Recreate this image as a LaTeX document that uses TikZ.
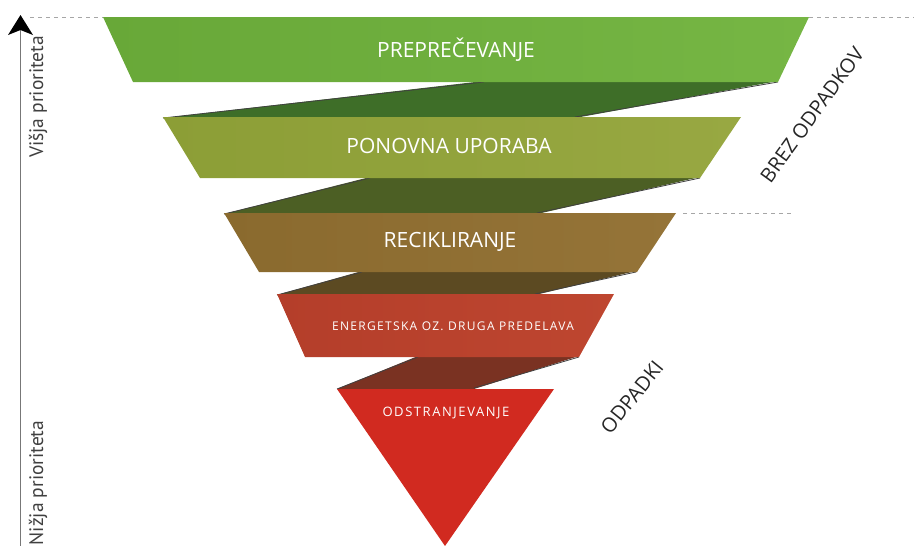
\documentclass[tikz,border=0pt]{standalone}
\usepackage{fontspec}
\setmainfont{Open Sans}
\newfontfamily\axisfont{PT Sans}
\usetikzlibrary{arrows.meta}
\definecolor{bandA}{HTML}{68A838}
\definecolor{bandAr}{HTML}{76B644}
\definecolor{shadA}{HTML}{3E6E28}
\definecolor{bandB}{HTML}{8C9E36}
\definecolor{bandBr}{HTML}{98A842}
\definecolor{shadB}{HTML}{4C5F24}
\definecolor{bandC}{HTML}{8A6A2E}
\definecolor{bandCr}{HTML}{957438}
\definecolor{shadC}{HTML}{5C4A22}
\definecolor{bandD}{HTML}{B43E2A}
\definecolor{bandDr}{HTML}{BE4630}
\definecolor{shadD}{HTML}{7A3222}
\definecolor{bandE}{HTML}{D12A20}
\definecolor{axisgray}{HTML}{777777}
\tikzset{
  foldedge/.style={draw=black!75, line width=0.8pt},
  bandlabel/.style={text=white, inner sep=0pt, font=\fontsize{21}{24}\selectfont},
  sidelabel/.style={text=black!85, inner sep=0pt, font=\fontsize{20}{22}\selectfont},
  axislabel/.style={text=black!75, inner sep=0pt, font=\axisfont\fontsize{19.5}{22}\selectfont},
  guideline/.style={draw=black!35, line width=0.8pt, dash pattern=on 4pt off 4pt},
}
\begin{document}
\begin{tikzpicture}[x=1pt,y=-1pt]
\useasboundingbox (0,0) rectangle (914,546);

% shadows / folds (behind bands)
\fill[shadA] (163,118) -- (484,81) -- (778,81) -- (575,118) -- cycle;
\draw[foldedge] (163,118) -- (484,82);
\draw[foldedge] (778,82) -- (575,117);
\fill[shadB] (224,214) -- (370,177) -- (700,177) -- (537,214) -- cycle;
\draw[foldedge] (224,214) -- (370,178);
\draw[foldedge] (700,178) -- (537,213);
\fill[shadC] (277,295) -- (362,271) -- (636,271) -- (535,295) -- cycle;
\draw[foldedge] (277,295) -- (362,272);
\draw[foldedge] (636,272) -- (535,294);
\fill[shadD] (337,389) -- (418,356) -- (579,356) -- (474,389) -- cycle;
\draw[foldedge] (337,389) -- (418,357);
\draw[foldedge] (579,357) -- (474,388);

% bands
\shade[left color=bandA, right color=bandAr] (103,17) -- (809,17) -- (778,82) -- (133,82) -- cycle;
\shade[left color=bandB, right color=bandBr] (163,117) -- (741,117) -- (700,178) -- (200,178) -- cycle;
\shade[left color=bandC, right color=bandCr] (224,213) -- (676,213) -- (637,272) -- (259,272) -- cycle;
\shade[left color=bandD, right color=bandDr] (277,294) -- (614,294) -- (579,357) -- (305,357) -- cycle;
\fill[bandE] (337,389) -- (554,389) -- (445,546) -- cycle;

% labels
\node[bandlabel] (prep) at (456,50) {PREPREČEVANJE};
\node[bandlabel] (reuse) at (449,146) {PONOVNA UPORABA};
\node[bandlabel] (recyc) at (450,242) {RECIKLIRANJE};
\node[text=white, inner sep=0pt, font=\fontsize{12}{14}\selectfont\addfontfeature{LetterSpace=11}] (energ) at (453,326) {ENERGETSKA OZ. DRUGA PREDELAVA};
\node[text=white, inner sep=0pt, font=\fontsize{13}{15}\selectfont\addfontfeature{LetterSpace=12}] (disp) at (446,413) {ODSTRANJEVANJE};

% side labels
\node[sidelabel, rotate=54] (brez) at (812,115) {BREZ ODPADKOV};
\node[sidelabel, rotate=51] (odp) at (632,397) {ODPADKI};

% guide lines
\coordinate (gA1) at (30,17);
\coordinate (gA2) at (103,17);
\coordinate (gB1) at (809,17);
\coordinate (gB2) at (914,17);
\coordinate (gC1) at (683,213);
\coordinate (gC2) at (792,213);
\draw[guideline] (gA1) -- (gA2);
\draw[guideline] (gB1) -- (gB2);
\draw[guideline] (gC1) -- (gC2);

% axis
\coordinate (axbot) at (20.5,546);
\coordinate (axtop) at (20.5,30);
\draw[axisgray, line width=1.4pt] (axbot) -- (axtop);
\fill[black] (20.5,15) -- (33,35) -- (20.5,30) -- (8,35) -- cycle;
\node[axislabel, rotate=90] (hi) at (38,97) {Višja prioriteta};
\node[axislabel, rotate=90] (lo) at (38,483) {Nižja prioriteta};
\end{tikzpicture}
\end{document}
